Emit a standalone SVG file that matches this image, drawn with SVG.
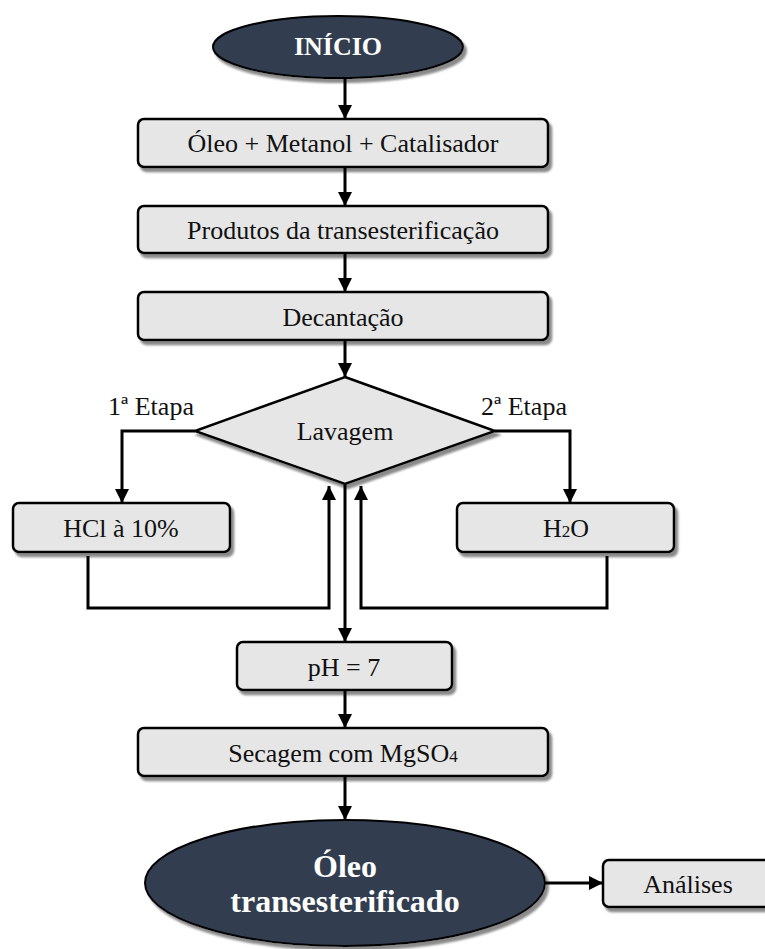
<svg xmlns="http://www.w3.org/2000/svg" width="765" height="949" viewBox="0 0 765 949">
<defs>
<marker id="ah" markerUnits="userSpaceOnUse" markerWidth="16" markerHeight="16" refX="14" refY="7" orient="auto">
<polygon points="0,0 14,7 0,14" fill="#000"/>
</marker>
<filter id="sh" x="-10%" y="-10%" width="130%" height="140%">
<feGaussianBlur in="SourceAlpha" stdDeviation="1"/>
<feOffset dx="3" dy="4" result="o"/>
<feFlood flood-color="#8a8a8a"/>
<feComposite in2="o" operator="in"/>
<feMerge><feMergeNode/><feMergeNode in="SourceGraphic"/></feMerge>
</filter>
</defs>
<style>
.box{fill:#e6e6e6;stroke:#000;stroke-width:2.5;filter:url(#sh)}
.term{fill:#323e50;stroke:#000;stroke-width:2;filter:url(#sh)}
text{font-family:'Liberation Serif','Times New Roman','DejaVu Serif',serif}
.t{font-size:26px;fill:#111;text-anchor:middle}
.tb{font-weight:bold;fill:#fff;text-anchor:middle}
.c{fill:none;stroke:#000;stroke-width:3}
.ca{fill:none;stroke:#000;stroke-width:3;marker-end:url(#ah)}
</style>
<g id="inicio">
<ellipse class="term" cx="338" cy="47" rx="125" ry="31"/>
<text class="tb" x="338" y="55" font-size="26">INÍCIO</text>
</g>
<g id="oleo-metanol">
<rect class="box" x="138" y="119" width="410" height="48" rx="6"/>
<text class="t" x="343" y="152">Óleo + Metanol + Catalisador</text>
</g>
<g id="produtos">
<rect class="box" x="138" y="206" width="410" height="47" rx="6"/>
<text class="t" x="343" y="239">Produtos da transesterificação</text>
</g>
<g id="decantacao">
<rect class="box" x="138" y="292" width="410" height="48" rx="6"/>
<text class="t" x="343" y="326">Decantação</text>
</g>
<g id="lavagem">
<polygon class="box" points="345,377 495,431 345,484 195,431" style="stroke-linejoin:miter"/>
<text class="t" x="345" y="440">Lavagem</text>
</g>
<g id="hcl">
<rect class="box" x="13" y="503" width="217" height="49" rx="6"/>
<text class="t" x="121" y="537">HCl à 10%</text>
</g>
<g id="h2o">
<rect class="box" x="457" y="503" width="217" height="49" rx="6"/>
<text class="t" x="566" y="537">H<tspan font-size="17">2</tspan>O</text>
</g>
<g id="ph">
<rect class="box" x="237" y="642" width="215" height="48" rx="6"/>
<text class="t" x="344" y="676">pH = 7</text>
</g>
<g id="secagem">
<rect class="box" x="138" y="728" width="410" height="48" rx="6"/>
<text class="t" x="343" y="762">Secagem com MgSO<tspan font-size="17">4</tspan></text>
</g>
<g id="oleo-trans">
<ellipse class="term" cx="345" cy="883" rx="200" ry="63"/>
<text class="tb" x="345" y="877" font-size="32">Óleo</text>
<text class="tb" x="345" y="912" font-size="32">transesterificado</text>
</g>
<g id="analises">
<rect class="box" x="603" y="860" width="175" height="47" rx="6"/>
<text class="t" x="688" y="893">Análises</text>
</g>
<g id="labels">
<text class="t" x="151" y="415">1ª Etapa</text>
<text class="t" x="524" y="415">2ª Etapa</text>
</g>
<g id="connectors">
<line class="ca" x1="345" y1="78" x2="345" y2="119"/>
<line class="ca" x1="345" y1="167" x2="345" y2="206"/>
<line class="ca" x1="345" y1="253" x2="345" y2="292"/>
<line class="ca" x1="345" y1="340" x2="345" y2="377"/>
<polyline class="ca" points="195,431 122,431 122,503"/>
<polyline class="ca" points="495,431 570,431 570,503"/>
<polyline class="ca" points="88,556 88,608 329,608 329,486"/>
<polyline class="ca" points="607,556 607,608 361,608 361,486"/>
<line class="ca" x1="345" y1="484" x2="345" y2="642"/>
<line class="ca" x1="345" y1="690" x2="345" y2="728"/>
<line class="ca" x1="345" y1="776" x2="345" y2="820"/>
<line class="ca" x1="545" y1="883" x2="603" y2="883"/>
</g>
</svg>
